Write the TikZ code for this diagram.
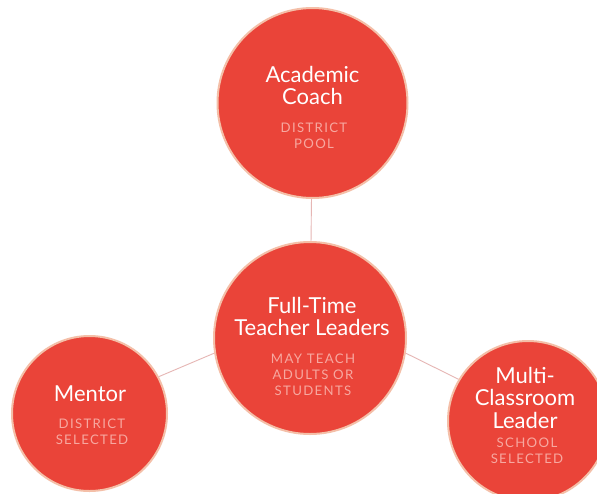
\documentclass[tikz,border=0pt]{standalone}
\usepackage{fontspec}
\setmainfont{Lato}
\newfontfamily\subfont[LetterSpace=10]{Lato}
\definecolor{discred}{HTML}{EA4439}
\definecolor{ringc}{HTML}{F4BFA8}
\definecolor{subc}{HTML}{F7A8A0}
\definecolor{linec}{HTML}{E6B6B4}
\begin{document}
\begin{tikzpicture}[x=1pt,y=-1pt,
  disc/.style={circle, fill=discred, draw=ringc, line width=2pt, inner sep=0pt, minimum size=#1},
  ttl/.style={anchor=base, text=white, font=\fontsize{22}{20.5}\selectfont, inner sep=0pt},
  subt/.style={anchor=base, text=subc, font=\subfont\fontsize{13.2}{16.2}\selectfont, inner sep=0pt},
  link/.style={draw=linec, line width=0.9pt}]
\useasboundingbox (0,0) rectangle (597,493);
\fill[white] (0,0) rectangle (597,493);
\clip (0,0) rectangle (597,493);
% circles
\node[disc=190pt] (coach) at (312.5,103) {};
\node[disc=192pt] (full) at (310,338) {};
\node[disc=155pt] (mentor) at (89.5,413.5) {};
\node[disc=160pt] (multi) at (528,421) {};
% connectors
\draw[link] (coach) -- (full);
\draw[link] (mentor.28) -- (full.-171);
\draw[link] (full.-9) -- (multi.149);
% texts
\node[ttl] (coachT) at (312.5,82) {\begin{tabular}[t]{@{}c@{}}Academic\\Coach\end{tabular}};
\node[subt] (coachS) at (314,132) {\begin{tabular}[t]{@{}c@{}}DISTRICT\\POOL\end{tabular}};
\node[ttl] (fullT) at (312,313) {\begin{tabular}[t]{@{}c@{}}Full-Time\\Teacher Leaders\end{tabular}};
\node[subt] (fullS) at (313,363) {\begin{tabular}[t]{@{}c@{}}MAY TEACH\\ADULTS OR\\STUDENTS\end{tabular}};
\node[ttl] (mentorT) at (90,401) {Mentor};
\node[subt] (mentorS) at (92,428) {\begin{tabular}[t]{@{}c@{}}DISTRICT\\SELECTED\end{tabular}};
\node[ttl, font=\fontsize{22}{21}\selectfont] (multiT) at (525,383) {\begin{tabular}[t]{@{}c@{}}Multi-\\Classroom\\Leader\end{tabular}};
\node[subt] (multiS) at (527,447) {\begin{tabular}[t]{@{}c@{}}SCHOOL\\SELECTED\end{tabular}};
\end{tikzpicture}
\end{document}
